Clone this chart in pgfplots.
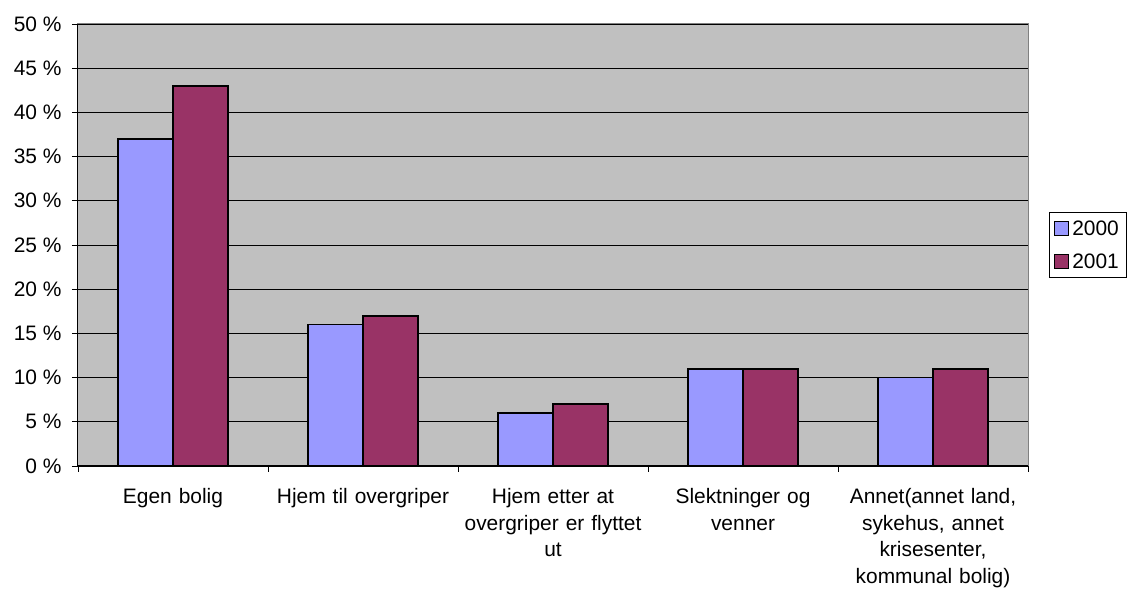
\documentclass[border=0pt]{standalone}
\usepackage{pgfplots}
\pgfplotsset{compat=1.18}
\usepackage{fontspec}
\setmainfont{Liberation Sans}
\definecolor{c2000}{HTML}{9999FF}
\definecolor{c2001}{HTML}{993366}
\definecolor{plotbg}{HTML}{C0C0C0}
\begin{document}
\begin{tikzpicture}[x=1bp,y=1bp]
\useasboundingbox (-78,-124) rectangle (1056,466);
\begin{axis}[
  at={(0,0)}, anchor=south west,
  scale only axis, width=950bp, height=442bp,
  ybar=0pt, bar width=55bp,
  xmin=-0.5, xmax=4.5, ymin=0, ymax=50,
  xtick={-0.5,0.5,...,4.5},
  x tick label as interval,
  xticklabels={Egen bolig,Hjem til overgriper,{Hjem etter at\\overgriper er flyttet\\ut},{Slektninger og\\venner},{Annet(annet land,\\sykehus, annet\\krisesenter,\\kommunal bolig)}},
  x tick label style={align=center, text width=190bp, anchor=north, yshift=-13bp},
  y tick label style={xshift=-7bp, anchor=east},
  xtick pos=bottom, ytick pos=left,
  ytick={0,5,...,50},
  yticklabel={\fontsize{21}{26}\selectfont\pgfmathprintnumber[assume math mode=true]{\tick}~\%},
  tick label style={font=\fontsize{21}{26.7}\selectfont},
  tick align=outside,
  major tick length=6bp,
  tick style={black, line width=0.8bp},
  ymajorgrids,
  major grid style={black, line width=0.8bp},
  axis line style={draw=gray, line width=1bp},
  axis background/.style={fill=plotbg},
  legend style={at={(1.022,0.5)}, anchor=west, draw=black, fill=white, line width=0.8bp,
    font=\fontsize{21}{24}\selectfont, row sep=13bp, inner xsep=5bp, inner ysep=6bp,
    nodes={inner xsep=3bp}},
  legend cell align=left,
  legend image code/.code={\draw[#1, draw=black, line width=1bp] (0bp,-7bp) rectangle (14bp,7bp);},
  clip=false,
]
\addplot[fill=c2000, draw=black, line width=1.6bp] coordinates {(0,37) (1,16) (2,6) (3,11) (4,10)};
\addplot[fill=c2001, draw=black, line width=1.6bp] coordinates {(0,43) (1,17) (2,7) (3,11) (4,11)};
\legend{2000,2001}
\draw[black, line width=1bp] (rel axis cs:0,1) -- (rel axis cs:0,0) -- (rel axis cs:1,0);
\end{axis}
\end{tikzpicture}
\end{document}
